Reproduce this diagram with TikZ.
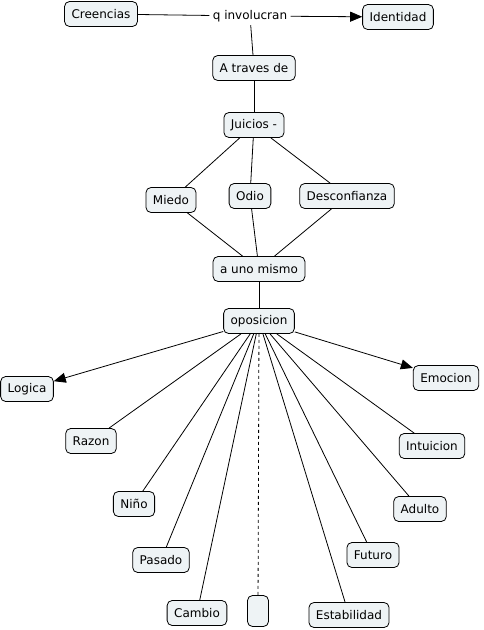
\documentclass[tikz,border=0pt]{standalone}
\usepackage{fontspec}
\setmainfont{DejaVu Sans}
\usetikzlibrary{arrows.meta}
\definecolor{cmapfill}{RGB}{238,243,245}
\tikzset{
	concept/.style={
		draw, fill=cmapfill, rounded corners=5pt, line width=0.8pt,
		inner xsep=7pt, inner ysep=0pt, minimum height=25pt,
		font={\fontsize{12}{14}\selectfont}
	},
	linkword/.style={
		inner sep=3pt, font={\fontsize{12}{14}\selectfont}
	},
	>={Triangle[length=12pt,width=10pt]},
}

\begin{document}
\begin{tikzpicture}[x=1pt, y=-1pt, line width=0.8pt]
\useasboundingbox (0,0) rectangle (483,630);
% top row
\node [concept]  (creencias) at (101,14) {Creencias};
\node [linkword] (involucran) at (250,16) {q involucran};
\node [concept]  (identidad) at (398,17) {Identidad};
\node [concept]  (traves) at (254,68) {A traves de};
\node [concept]  (juicios) at (254,125) {Juicios -};
% middle
\node [concept] (miedo) at (171,200) {Miedo};
\node [concept] (odio) at (250,196) {Odio};
\node [concept] (desconf) at (347,196) {Desconfianza};
\node [concept] (mismo) at (259,269) {a uno mismo};
\node [concept] (oposicion) at (259,321) {oposicion};
% fan
\node [concept] (logica) at (27,389) {Logica};
\node [concept] (emocion) at (446,378) {Emocion};
\node [concept] (razon) at (91,441) {Razon};
\node [concept] (intuicion) at (432,446) {Intuicion};
\node [concept] (nino) at (134,504) {Niño};
\node [concept] (adulto) at (420,509) {Adulto};
\node [concept] (pasado) at (161,560) {Pasado};
\node [concept] (futuro) at (373,555) {Futuro};
\node [concept] (cambio) at (197,613) {Cambio};
\node [concept, minimum width=21pt, minimum height=31pt, inner xsep=0pt] (vacio) at (258,611) {};
\node [concept] (estab) at (349,615) {Estabilidad};
% links
\path (creencias) edge (involucran);
\path (involucran) edge [->] (identidad);
\path (involucran) edge (traves);
\path (traves) edge (juicios);
\path (juicios) edge (miedo);
\path (juicios) edge (odio);
\path (juicios) edge (desconf);
\path (miedo) edge (mismo);
\path (odio) edge (mismo);
\path (desconf) edge (mismo);
\path (mismo) edge (oposicion);
\path (oposicion) edge [->] (logica);
\path (oposicion) edge [->] (emocion);
\foreach \t in {razon,intuicion,nino,adulto,pasado,futuro,cambio,estab}
	\path (oposicion) edge (\t);
\path (oposicion) edge [dashed] (vacio);
\end{tikzpicture}
\end{document}
